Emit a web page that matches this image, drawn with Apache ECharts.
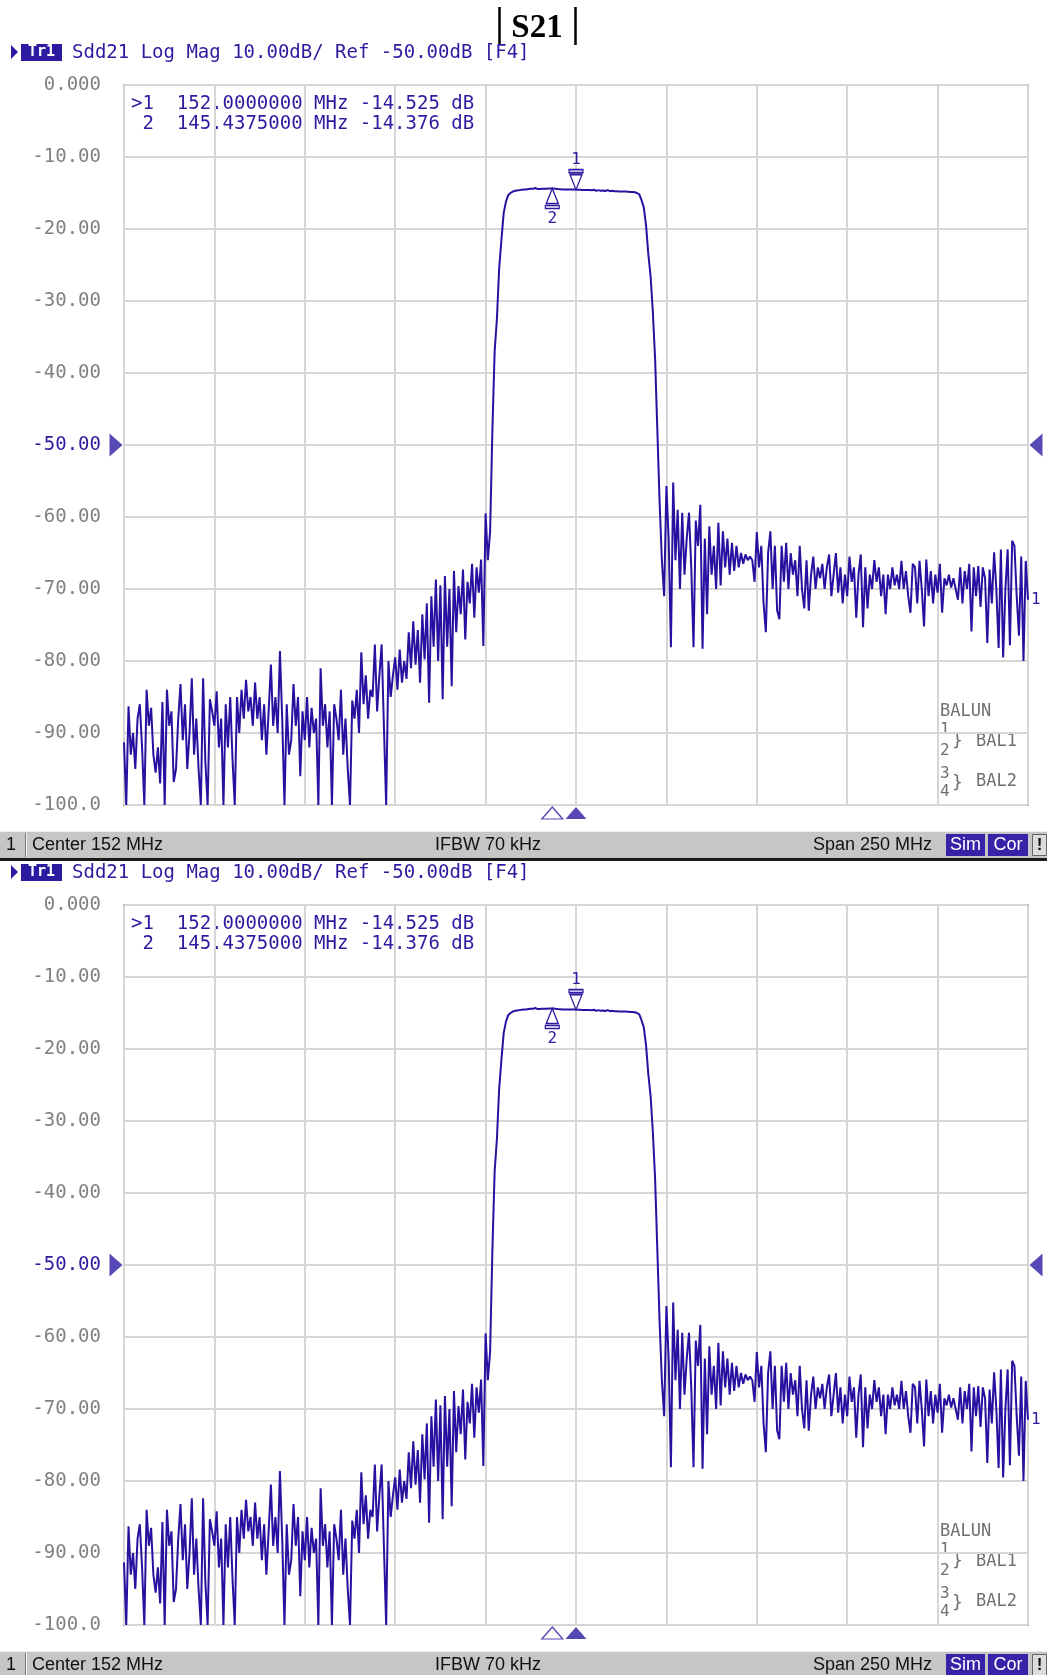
<!DOCTYPE html>
<html><head><meta charset="utf-8">
<script src="https://cdn.jsdelivr.net/npm/echarts@6/dist/echarts.min.js"></script>
<style>html,body{margin:0;padding:0;background:#ffffff}#c{width:1047px;height:1675px}</style>
</head><body><div id="c"></div>
<script>
// ---- sweep definition ----
const freqStartMHz = 27;
const freqStepMHz = 0.625;
const spanMHz = 250;
const centerMHz = 152;
const ifbwKHz = 70;

// ---- measured Sdd21 trace (dB), 401 points ----
const s21dB = [
 -91.3,-100,-86.3,-93,-90,-95,-88,-86,-92,-100,
 -84,-89,-86.5,-93,-95.5,-92,-97,-85.7,-100,-84,
 -89,-87,-96.8,-95,-88,-83.2,-91,-86,-95,-90,
 -82.4,-93,-88,-95,-100,-82.4,-94,-100,-85.3,-87,
 -89,-84.2,-92,-88,-100,-86,-92,-85,-93.5,-100,
 -85,-90,-84,-88,-82.6,-87,-85,-89,-83,-88,
 -85,-91,-86,-93,-87,-80.5,-89,-85,-90,-78.6,
 -88,-100,-86,-93,-91,-83.2,-89,-85,-96,-87,
 -91,-85,-92,-86.5,-90,-88,-100,-81,-89,-86,
 -92,-87,-100,-86,-88,-91,-84,-93,-88,-95,
 -100,-85.5,-88,-84,-90,-78.8,-86,-82,-88,-84,
 -85,-77.7,-87,-82,-77.7,-89,-100,-80,-85,-82,
 -79.5,-84,-78.4,-83,-80,-82.5,-76,-81,-74.5,-80.5,
 -75.7,-83,-73.5,-79.8,-72,-85.8,-71,-78,-68.7,-80,
 -69.5,-85.3,-68.2,-78,-70,-83.5,-67.5,-76,-69.6,-73.5,
 -67.3,-77,-69,-72,-66.5,-74,-67,-70.5,-65.9,-77.9,
 -59.5,-66,-62,-48,-37,-32.5,-25.5,-21.5,-17.8,-16.2,
 -15.3,-15.0,-14.8,-14.7,-14.65,-14.6,-14.55,-14.5,-14.5,-14.45,
 -14.4,-14.42,-14.3,-14.45,-14.45,-14.42,-14.4,-14.4,-14.39,-14.38,
 -14.38,-14.42,-14.45,-14.47,-14.5,-14.5,-14.52,-14.5,-14.52,-14.53,
 -14.525,-14.55,-14.55,-14.6,-14.58,-14.6,-14.6,-14.62,-14.55,-14.7,
 -14.6,-14.7,-14.65,-14.72,-14.6,-14.75,-14.7,-14.75,-14.75,-14.78,
 -14.8,-14.8,-14.8,-14.82,-14.85,-14.85,-14.9,-15.0,-15.2,-16.0,
 -17.0,-19.5,-23.5,-26.5,-31.5,-38,-48,-58,-66,-71,
 -55.7,-63,-78.1,-55.2,-66,-59,-70,-59.4,-68,-63,
 -59.4,-67,-78.1,-60.5,-64,-58.3,-78.3,-63,-73.5,-61.3,
 -68,-64,-70,-60.8,-69.5,-62,-67,-63,-68,-63.6,
 -67.5,-64,-67,-65,-66.5,-65.2,-66,-65.5,-66,-69,
 -62.1,-67,-64,-72,-76,-65,-62,-70,-64,-73,
 -74.2,-64,-69,-63.6,-70,-65,-68,-66,-71,-64,
 -70,-72.7,-66,-73,-68,-65.5,-70,-67,-68.5,-66.5,
 -70,-67,-65.2,-71,-68,-65,-70.5,-67,-72,-68,
 -71,-65.5,-69,-67,-74,-68,-65.2,-75.3,-67,-72.7,
 -68,-70,-66,-69,-67,-71,-68,-73.5,-68,-70,
 -67,-69.5,-68,-70,-66.1,-70,-67.5,-71,-73.3,-66.5,
 -67,-72,-66.1,-70,-75.2,-65.9,-71,-67.5,-72,-68,
 -70.5,-66.5,-73.3,-68.5,-69.5,-68,-69.8,-68.5,-70,-71.5,
 -67,-72,-67.5,-70,-66.5,-75.9,-67,-71,-66.8,-72.5,
 -67,-68.5,-77.5,-67.3,-72,-64.9,-70,-78.2,-64.5,-79.5,
 -70,-64.5,-77.8,-63.3,-64,-71,-76.5,-65.5,-80,-66.1,
 -71.5
];

// ---- axis tick labels ----
const yTickLabels = ['0.000','-10.00','-20.00','-30.00','-40.00','-50.00','-60.00','-70.00','-80.00','-90.00','-100.0'];
const refLevelDB = -50;

// ---- markers ----
const markerNames = ['1','2'];
const markerFreqMHz = [152.0, 145.4375];
const markerDB = [-14.525, -14.376];

// ---- styling ----
const BLUE = '#2c1ba0';
const TRACE = '#2810a0';
const GRAY = '#808080';
const MONO = '"DejaVu Sans Mono", monospace';
const SANS = '"Liberation Sans", Arial, sans-serif';

const pts = s21dB.map((v, i) => [i * freqStepMHz, v]);

const grids = [], xAxes = [], yAxes = [], series = [], graphics = [];

// title |S21|
graphics.push({type:'text', silent:true, style:{text:'S21', x:537, y:28, align:'center', verticalAlign:'middle',
  font:'bold 33px "Liberation Serif", "Times New Roman", serif', fill:'#000'}});
graphics.push({type:'line', silent:true, shape:{x1:499.5, y1:7, x2:499.5, y2:45}, style:{stroke:'#000', lineWidth:2.5}});
graphics.push({type:'line', silent:true, shape:{x1:575.5, y1:7, x2:575.5, y2:45}, style:{stroke:'#000', lineWidth:2.5}});

function txt(t, x, y, font, fill, align) {
  return {type:'text', silent:true, style:{text:t, x:x, y:y, font:font, fill:fill, align:align||'left', verticalAlign:'middle'}};
}

function buildPanel(k, top) {
  grids.push({left:124, top:top, width:904, height:720, show:true, backgroundColor:'#ffffff', borderColor:'#8a8a8a', borderWidth:2});
  xAxes.push({gridIndex:k, type:'value', min:0, max:spanMHz, interval:25,
    axisLine:{show:false}, axisTick:{show:false}, axisLabel:{show:false},
    splitLine:{show:true, lineStyle:{color:'#d6d6d6', width:2}}});
  yAxes.push({gridIndex:k, type:'value', min:-100, max:0, interval:10,
    axisLine:{show:false}, axisTick:{show:false},
    axisLabel:{formatter:v => yTickLabels[Math.round(-v/10)],
      color:v => (Number(v) === refLevelDB ? BLUE : GRAY),
      fontFamily:'DejaVu Sans Mono', fontSize:19, margin:23},
    splitLine:{show:true, lineStyle:{color:'#d6d6d6', width:2}}});

  series.push({type:'line', xAxisIndex:k, yAxisIndex:k, data:pts, showSymbol:false, symbol:'none',
    lineStyle:{color:TRACE, width:2}, clip:true, silent:true, animation:false,
    endLabel:{show:true, formatter:'1', color:BLUE, fontFamily:'DejaVu Sans Mono', fontSize:16, distance:3},
    markPoint:{silent:true, animation:false,
      itemStyle:{color:'#ffffff', borderColor:BLUE, borderWidth:1.4},
      label:{show:true, formatter:'{b}', color:BLUE, fontFamily:'DejaVu Sans Mono', fontSize:16, distance:1},
      data:markerNames.map((n, j) => j === 0 ? {
        name:n, coord:[markerFreqMHz[j]-freqStartMHz, markerDB[j]],
        symbol:'path://M0,0L14,0L14,3L0,3Z M1,5L13,5L7,20Z', symbolSize:[14,20], symbolOffset:[0,-10],
        label:{position:'top'}
      } : {
        name:n, coord:[markerFreqMHz[j]-freqStartMHz, markerDB[j]],
        symbol:'path://M7,0L13,15L1,15Z M0,17L14,17L14,20L0,20Z', symbolSize:[14,20], symbolOffset:[0,10],
        label:{position:'bottom'}
      })
    }
  });

  // marker position triangles under the graticule
  series.push({type:'scatter', xAxisIndex:k, yAxisIndex:k, clip:false, silent:true, animation:false, z:5,
    symbol:'triangle', symbolSize:[21,12], symbolOffset:[0,8],
    data:markerFreqMHz.map((f, j) => ({value:[f-freqStartMHz, -100],
      itemStyle: j === 0 ? {color:BLUE} : {color:'#ffffff', borderColor:BLUE, borderWidth:1.3}}))});

  // reference level arrows
  series.push({type:'scatter', xAxisIndex:k, yAxisIndex:k, clip:false, silent:true, animation:false, z:5,
    symbolSize:[13,23], itemStyle:{color:BLUE},
    data:[{value:[0, refLevelDB], symbol:'path://M0,0L12,11L0,22Z', symbolOffset:[-8,0]},
          {value:[spanMHz, refLevelDB], symbol:'path://M12,0L0,11L12,22Z', symbolOffset:[8,0]}]});

  // header line
  graphics.push({type:'polygon', silent:true, shape:{points:[[11,top-40],[18,top-33],[11,top-26]]}, style:{fill:BLUE}});
  graphics.push({type:'rect', silent:true, shape:{x:21, y:top-41, width:41, height:17}, style:{fill:BLUE}});
  graphics.push(txt('Tr1', 41.5, top-32.5, 'bold 15px "DejaVu Sans Mono", monospace', '#ffffff', 'center'));
  graphics.push(txt('Sdd21 Log Mag 10.00dB/ Ref ' + refLevelDB.toFixed(2) + 'dB [F4]', 72, top-32, '19px ' + MONO, BLUE));

  // marker readout
  markerNames.forEach((n, j) => {
    const line = (j === 0 ? '>' : ' ') + n + '  ' + markerFreqMHz[j].toFixed(7) + ' MHz ' + markerDB[j].toFixed(3) + ' dB';
    graphics.push(txt(line, 131, top + 19 + j * 20, '19px ' + MONO, BLUE));
  });

  // BALUN legend
  const bg = '#707070';
  graphics.push(txt('BALUN', 940, top + 627, '17px ' + MONO, bg));
  graphics.push(txt('1', 940, top + 645, '16px ' + MONO, bg));
  graphics.push(txt('2', 940, top + 666, '16px ' + MONO, bg));
  graphics.push(txt('}', 952, top + 656, '18px ' + MONO, bg));
  graphics.push(txt('BAL1', 976, top + 657, '17px ' + MONO, bg));
  graphics.push(txt('3', 940, top + 689, '16px ' + MONO, bg));
  graphics.push(txt('4', 940, top + 707, '16px ' + MONO, bg));
  graphics.push(txt('}', 952, top + 698, '18px ' + MONO, bg));
  graphics.push(txt('BAL2', 976, top + 697, '17px ' + MONO, bg));

  // status bar
  const sb = top + 746;
  graphics.push({type:'rect', silent:true, shape:{x:0, y:sb, width:1047, height:27}, style:{fill:'#c6c6c6'}});
  graphics.push({type:'line', silent:true, shape:{x1:0, y1:sb+0.5, x2:1047, y2:sb+0.5}, style:{stroke:'#eeeeee', lineWidth:1}});
  graphics.push({type:'line', silent:true, shape:{x1:26.5, y1:sb+2, x2:26.5, y2:sb+26}, style:{stroke:'#f4f4f4', lineWidth:1}});
  graphics.push({type:'line', silent:true, shape:{x1:25.5, y1:sb+2, x2:25.5, y2:sb+26}, style:{stroke:'#7a7a7a', lineWidth:1}});
  graphics.push({type:'rect', silent:true, shape:{x:0, y:sb+27, width:1047, height:3}, style:{fill:'#1a1a1a'}});
  graphics.push(txt('1', 6, sb+14, '18px ' + SANS, '#111'));
  graphics.push(txt('Center ' + centerMHz + ' MHz', 32, sb+14, '18px ' + SANS, '#111'));
  graphics.push(txt('IFBW ' + ifbwKHz + ' kHz', 435, sb+14, '18px ' + SANS, '#111'));
  graphics.push(txt('Span ' + spanMHz + ' MHz', 813, sb+14, '18px ' + SANS, '#111'));
  graphics.push({type:'rect', silent:true, shape:{x:946, y:sb+3, width:39, height:22}, style:{fill:'#3a22a8'}});
  graphics.push(txt('Sim', 965.5, sb+14, '18px ' + SANS, '#ffffff', 'center'));
  graphics.push({type:'rect', silent:true, shape:{x:988, y:sb+3, width:40, height:22}, style:{fill:'#3a22a8'}});
  graphics.push(txt('Cor', 1008, sb+14, '18px ' + SANS, '#ffffff', 'center'));
  graphics.push({type:'rect', silent:true, shape:{x:1032.5, y:sb+3.5, width:14, height:21}, style:{fill:'#dcdcdc', stroke:'#666', lineWidth:1}});
  graphics.push(txt('!', 1039.5, sb+14, 'bold 17px ' + SANS, '#111', 'center'));
}

buildPanel(0, 85);
buildPanel(1, 905);

const chart = echarts.init(document.getElementById('c'), null, {renderer:'canvas'});
chart.setOption({
  backgroundColor:'#ffffff',
  animation:false,
  grid:grids, xAxis:xAxes, yAxis:yAxes, series:series,
  graphic:{elements:graphics}
});
</script></body></html>
